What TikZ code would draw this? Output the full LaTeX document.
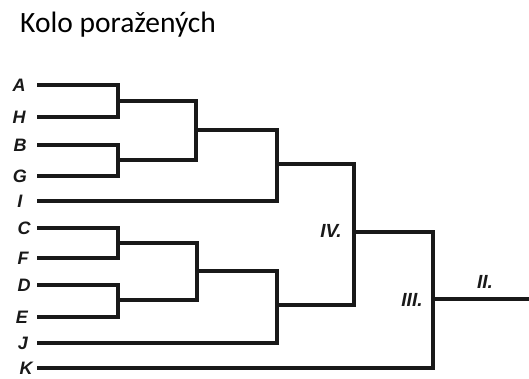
\documentclass[tikz,border=0pt]{standalone}
\usepackage{fontspec}
\setmainfont{Liberation Sans}
\newfontfamily\titlefont{Carlito}
\begin{document}
\begin{tikzpicture}[x=1pt,y=-1pt,
  br/.style={line width=3.3pt,line join=miter,line cap=rect,black!90},
  lbl/.style={font=\fontsize{18}{18}\selectfont\bfseries\itshape,inner sep=0pt,text=black!90},
  rnd/.style={font=\fontsize{19}{19}\selectfont\bfseries\itshape,inner sep=0pt,text=black!90}]
\useasboundingbox (0,0) rectangle (529,379);
\node[font=\titlefont\fontsize{29.5}{29.5}\selectfont,anchor=base west,inner sep=0pt] (title) at (20,33) {Kolo poražených};
% player labels
\node[lbl] (A) at (19,85) {A};
\node[lbl] (H) at (19,117) {H};
\node[lbl] (B) at (20,145) {B};
\node[lbl] (G) at (20,176) {G};
\node[lbl] (I) at (20,201) {I};
\node[lbl] (C) at (24,228) {C};
\node[lbl] (F) at (23,258) {F};
\node[lbl] (D) at (24,285) {D};
\node[lbl] (E) at (22,317) {E};
\node[lbl] (J) at (23,343) {J};
\node[lbl] (K) at (26,368) {K};
% line starts
\coordinate (sA) at (39,85);
\coordinate (sH) at (39,117);
\coordinate (sB) at (39,145);
\coordinate (sG) at (39,176);
\coordinate (sI) at (39,201);
\coordinate (sC) at (39,228);
\coordinate (sF) at (39,258);
\coordinate (sD) at (39,285);
\coordinate (sE) at (39,317);
\coordinate (sJ) at (39,343);
\coordinate (sK) at (39,368);
% junctions
\coordinate (m1) at (118,101);
\coordinate (m2) at (118,160);
\coordinate (m3) at (196,130);
\coordinate (m4) at (277,164);
\coordinate (m5) at (118,243);
\coordinate (m6) at (118,300);
\coordinate (m7) at (197,271);
\coordinate (m8) at (277,305);
\coordinate (m9) at (354,232);
\coordinate (m10) at (433,299);
\coordinate (fin) at (530,299);
% brackets
\draw[br] (sA) -| (m1) |- (sH);
\draw[br] (sB) -| (m2) |- (sG);
\draw[br] (m1) -| (m3) |- (m2);
\draw[br] (m3) -| (m4) |- (sI);
\draw[br] (sC) -| (m5) |- (sF);
\draw[br] (sD) -| (m6) |- (sE);
\draw[br] (m5) -| (m7) |- (m6);
\draw[br] (m7) -| (m8) |- (sJ);
\draw[br] (m4) -| (m9) |- (m8);
\draw[br] (m9) -| (m10) |- (sK);
\draw[br] (m10) -- (fin);
% round labels
\node[rnd] (r4) at (331,231) {IV.};
\node[rnd] (r3) at (412,300) {III.};
\node[rnd] (r2) at (485,282) {II.};
\end{tikzpicture}
\end{document}
